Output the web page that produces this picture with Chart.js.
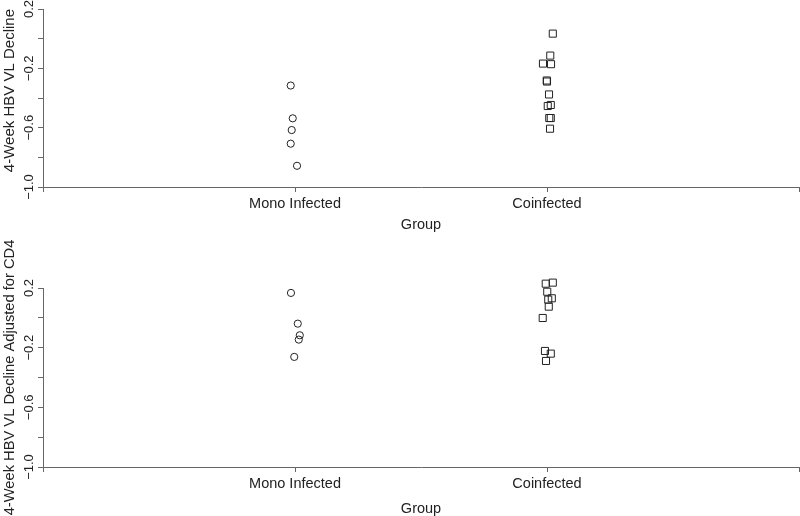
<!DOCTYPE html>
<html>
<head>
<meta charset="utf-8">
<title>4-Week HBV VL Decline by Group</title>
<script src="https://cdn.jsdelivr.net/npm/chart.js@4/dist/chart.umd.min.js"></script>
<style>
  body { margin: 0; background: #fff; }
  .panel { position: absolute; left: 0; width: 800px; }
</style>
</head>
<body>
<div class="panel" style="top:0;height:236px"><canvas id="topChart" width="800" height="236"></canvas></div>
<div class="panel" style="top:236px;height:280px"><canvas id="bottomChart" width="800" height="280"></canvas></div>
<script>
// Groups sit at x = 1 and x = 2 on a 0..3 axis
const groups = ['Mono Infected', 'Coinfected'];
const yLabelled = [0.2, -0.2, -0.6, -1.0];

// Top panel: 4-week HBV VL decline
const monoDecline = [-0.316, -0.537, -0.616, -0.708, -0.857];
const monoJitter  = [-0.017, -0.009, -0.013, -0.017, 0.008];
const coDecline = [0.034, -0.114, -0.168, -0.172, -0.282, -0.289, -0.376, -0.454, -0.447, -0.535, -0.535, -0.607];
const coJitter  = [0.023, 0.013, -0.016, 0.016, -0.001, 0.000, 0.008, 0.003, 0.015, 0.009, 0.015, 0.012];

// Bottom panel: decline adjusted for CD4
const monoAdjusted = [0.167, -0.039, -0.117, -0.146, -0.262];
const monoAdjJitter = [-0.016, 0.011, 0.019, 0.015, -0.003];
const coAdjusted = [0.249, 0.229, 0.236, 0.175, 0.122, 0.131, 0.075, -0.001, -0.222, -0.240, -0.289];
const coAdjJitter = [-0.017, -0.005, 0.023, 0.001, 0.005, 0.019, 0.007, -0.017, -0.008, 0.015, -0.004];

const INK = '#222';
const AXIS = '#666';
const FONT = 'Liberation Sans, Arial, Helvetica, sans-serif';

function toPoints(groupPos, values, jitter) {
    return values.map((v, i) => ({ x: groupPos + jitter[i], y: v }));
}

function fmtTick(v) {
    return v.toFixed(1).replace('-', '\u2212');
}

function makeChart(id, yTitle, mono, monoJ, co, coJ, cfg) {
    const ctx = document.getElementById(id).getContext('2d');
    return new Chart(ctx, {
        type: 'scatter',
        data: {
            datasets: [{
                label: groups[0],
                data: toPoints(1, mono, monoJ),
                pointStyle: 'circle',
                pointRadius: 3.6,
                borderColor: INK,
                backgroundColor: 'rgba(0,0,0,0)',
                borderWidth: 1,
                clip: false
            }, {
                label: groups[1],
                data: toPoints(2, co, coJ),
                pointStyle: 'rect',
                pointRadius: 5,
                borderColor: INK,
                backgroundColor: 'rgba(0,0,0,0)',
                borderWidth: 1,
                clip: false
            }]
        },
        options: {
            responsive: false,
            animation: false,
            layout: { autoPadding: false, padding: { top: cfg.padTop, right: 0, left: 0, bottom: 0 } },
            plugins: { legend: { display: false }, tooltip: { enabled: false } },
            scales: {
                x: {
                    type: 'linear',
                    min: 0,
                    max: 3,
                    afterFit: s => {
                        s.height = cfg.xHeight;
                        s.paddingLeft = 0;
                        s.paddingRight = 1;
                    },
                    ticks: {
                        stepSize: 1,
                        color: INK,
                        font: { family: FONT, size: 14.5 },
                        padding: 3,
                        maxRotation: 0,
                        callback: v => (v === 1 || v === 2) ? groups[v - 1] : ''
                    },
                    grid: { drawOnChartArea: false, color: AXIS, tickLength: 5 },
                    border: { display: true, color: AXIS, width: 1 },
                    title: {
                        display: true,
                        text: 'Group',
                        color: INK,
                        font: { family: FONT, size: 14.5, lineHeight: 1 },
                        padding: { top: 0, bottom: cfg.titlePad }
                    }
                },
                y: {
                    min: -1.0,
                    max: 0.2,
                    afterFit: s => { s.width = 43; },
                    ticks: {
                        stepSize: 0.2,
                        color: INK,
                        font: { family: FONT, size: 13 },
                        minRotation: 90,
                        maxRotation: 90,
                        crossAlign: 'center',
                        padding: -4,
                        callback: v => {
                            const r = Math.round(v * 10) / 10;
                            return yLabelled.some(t => Math.abs(t - r) < 1e-6) ? fmtTick(r) : '';
                        }
                    },
                    grid: { drawOnChartArea: false, color: AXIS, tickLength: 5 },
                    border: { display: true, color: AXIS, width: 1 },
                    title: {
                        display: true,
                        text: yTitle,
                        align: cfg.titleAlign,
                        color: INK,
                        font: { family: FONT, size: cfg.titleSize, lineHeight: 1 },
                        padding: { top: 2.5, bottom: 0 }
                    }
                }
            }
        }
    });
}

makeChart('topChart', '4-Week HBV VL Decline', monoDecline, monoJitter, coDecline, coJitter,
    { padTop: 9, xHeight: 49, titlePad: 3.5, titleAlign: 'end', titleSize: 15 });
makeChart('bottomChart', '4-Week HBV VL Decline Adjusted for CD4', monoAdjusted, monoAdjJitter, coAdjusted, coAdjJitter,
    { padTop: 52, xHeight: 49, titlePad: 0, titleAlign: 'center', titleSize: 14.7 });
</script>
</body>
</html>
